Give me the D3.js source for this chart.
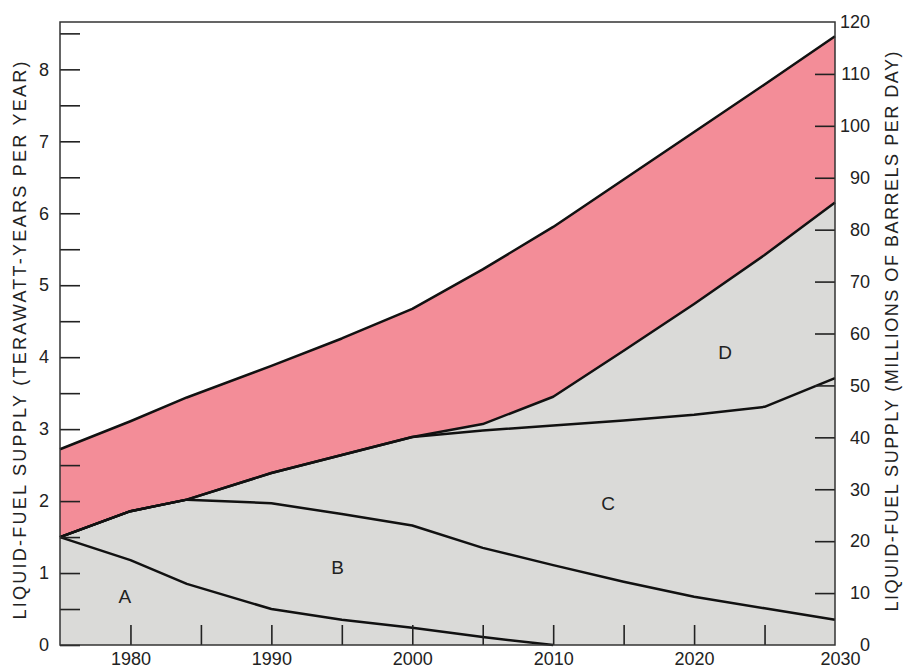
<!DOCTYPE html>
<html>
<head>
<meta charset="utf-8">
<script src="https://cdn.jsdelivr.net/npm/d3@7"></script>
<style>
  body { margin: 0; background: #fff; }
  svg { display: block; font-family: "Liberation Sans", Arial, Helvetica, sans-serif; }
</style>
</head>
<body>
<div id="chart"></div>
<script>
// years, layer thicknesses in terawatt-years per year
const years = [1975, 1980, 1984, 1990, 1995, 2000, 2005, 2010, 2015, 2020, 2025, 2030];
const seriesA = [1.50, 1.18, 0.85, 0.50, 0.35, 0.24, 0.11, 0.00, 0.00, 0.00, 0.00, 0.00];
const seriesB = [0.00, 0.68, 1.17, 1.47, 1.47, 1.42, 1.24, 1.11, 0.88, 0.67, 0.51, 0.35];
const seriesC = [0.00, 0.00, 0.00, 0.42, 0.82, 1.23, 1.63, 1.94, 2.24, 2.53, 2.80, 3.36];
const seriesD = [0.00, 0.00, 0.00, 0.00, 0.00, 0.00, 0.09, 0.40, 0.97, 1.54, 2.11, 2.44];
const seriesE = [1.22, 1.25, 1.42, 1.49, 1.62, 1.78, 2.15, 2.36, 2.38, 2.39, 2.37, 2.31];

const leftTicks = d3.range(0, 8.51, 0.5);
const rightTicks = d3.range(0, 121, 10);
const xTicks = d3.range(1980, 2031, 5);
const areaLabels = [
  { text: 'A', year: 1979.6, value: 0.68 },
  { text: 'B', year: 1994.7, value: 1.08 },
  { text: 'C', year: 2013.9, value: 1.97 },
  { text: 'D', year: 2022.2, value: 4.07 },
];
const leftTitle = 'LIQUID-FUEL SUPPLY (TERAWATT-YEARS PER YEAR)';
const rightTitle = 'LIQUID-FUEL SUPPLY (MILLIONS OF BARRELS PER DAY)';

const width = 903, height = 670;
const margin = { top: 22, right: 68, bottom: 25, left: 60 };
const innerW = width - margin.left - margin.right;
const innerH = height - margin.top - margin.bottom;
const barrelsPerTw = 13.86;

const rows = years.map((y, i) => ({ year: y, A: seriesA[i], B: seriesB[i], C: seriesC[i], D: seriesD[i], E: seriesE[i] }));
const keys = ['A', 'B', 'C', 'D', 'E'];
const stacked = d3.stack().keys(keys)(rows);

const x = d3.scaleLinear().domain([1975, 2030]).range([0, innerW]);
const yL = d3.scaleLinear().domain([0, 120 / barrelsPerTw]).range([innerH, 0]);
const yR = d3.scaleLinear().domain([0, 120]).range([innerH, 0]);

const svg = d3.select('#chart').append('svg').attr('width', width).attr('height', height);
const g = svg.append('g').attr('transform', `translate(${margin.left},${margin.top})`);

const area = d3.area().x((d, i) => x(years[i])).y0(d => yL(d[0])).y1(d => yL(d[1]));
g.selectAll('path.layer').data(stacked).join('path')
  .attr('class', 'layer')
  .attr('d', area)
  .attr('fill', d => d.key === 'E' ? '#f38d98' : '#dadad8');

const line = d3.line().x((d, i) => x(years[i])).y(d => yL(d[1]))
  .defined((d, i, arr) => d[1] > 0 || (i > 0 && arr[i - 1][1] > 0));
g.selectAll('path.edge').data(stacked).join('path')
  .attr('class', 'edge')
  .attr('d', d => line(d))
  .attr('fill', 'none').attr('stroke', '#111').attr('stroke-width', 2.5)
  .attr('stroke-linejoin', 'round');

// axes with ticks pointing into the plot
const fmtLeft = d => Number.isInteger(d) ? d : '';
const axL = g.append('g').call(d3.axisLeft(yL).tickValues(leftTicks).tickFormat(fmtLeft).tickSizeInner(-20).tickSizeOuter(0).tickPadding(11));
const axR = g.append('g').attr('transform', `translate(${innerW},0)`)
  .call(d3.axisRight(yR).tickValues(rightTicks).tickSizeInner(-20).tickSizeOuter(0));
const axB = g.append('g').attr('transform', `translate(0,${innerH})`)
  .call(d3.axisBottom(x).tickValues(xTicks).tickFormat(d => d % 10 === 0 ? d : '').tickSizeInner(-20).tickSizeOuter(0).tickPadding(7));

[axL, axR, axB].forEach(ax => {
  ax.select('.domain').remove();
  ax.selectAll('line').attr('stroke', '#222').attr('stroke-width', 1.6);
  ax.selectAll('text').attr('fill', '#222').style('font-size', '18px');
});
axR.selectAll('text').attr('x', 35).attr('text-anchor', 'end');
axR.selectAll('.tick').filter(d => d === 0 || d === 120).select('line').remove();
axB.selectAll('.tick').filter(d => d === 2030).select('line').remove();
axB.selectAll('.tick').filter(d => d === 2030).select('text').attr('x', 5);
axB.selectAll('text').attr('dy', '0.72em');

g.append('rect').attr('width', innerW).attr('height', innerH)
  .attr('fill', 'none').attr('stroke', '#333').attr('stroke-width', 1.5);

g.selectAll('text.area-label').data(areaLabels).join('text')
  .attr('class', 'area-label')
  .attr('x', d => x(d.year)).attr('y', d => yL(d.value))
  .attr('text-anchor', 'middle').attr('dy', '0.35em')
  .style('font-size', '19px').attr('fill', '#222').text(d => d.text);

svg.append('text')
  .attr('transform', `translate(20,${margin.top + innerH / 2 + 7}) rotate(-90)`)
  .attr('text-anchor', 'middle').attr('dy', '0.35em')
  .attr('textLength', 558).attr('lengthAdjust', 'spacing')
  .style('font-size', '18px').attr('fill', '#222').text(leftTitle);
svg.append('text')
  .attr('transform', `translate(892,${margin.top + innerH / 2 - 2}) rotate(-90)`)
  .attr('text-anchor', 'middle').attr('dy', '0.35em')
  .attr('textLength', 560).attr('lengthAdjust', 'spacing')
  .style('font-size', '18px').attr('fill', '#222').text(rightTitle);
</script>
</body>
</html>
